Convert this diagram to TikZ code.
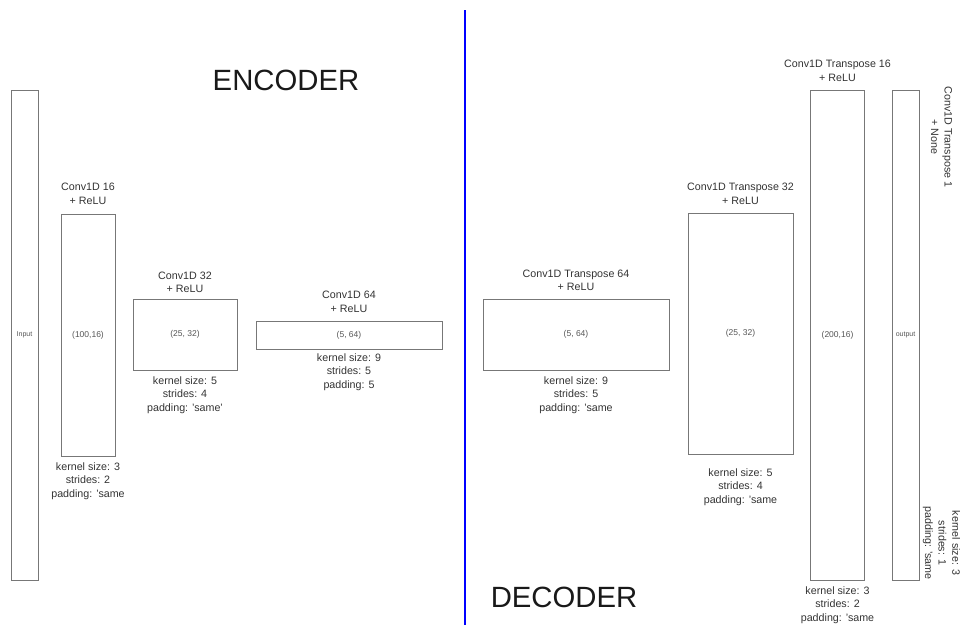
\documentclass[tikz,border=0pt]{standalone}
\usepackage{fontspec}
\setmainfont{Liberation Sans}
\definecolor{txt}{HTML}{333333}
\definecolor{edge}{HTML}{777777}
\definecolor{inner}{HTML}{555555}
\begin{document}
\begin{tikzpicture}[x=1pt,y=-1pt,
  blk/.style={draw=edge,line width=0.9pt,inner sep=0pt,outer sep=0pt,text=inner,font=\fontsize{8.5}{9.5}\selectfont},
  lbl/.style={align=center,text=txt,inner sep=0pt,font=\fontsize{10.7}{13.6}\selectfont},
  title/.style={text=black!90,inner sep=0pt,font=\fontsize{29.3}{31}\selectfont}]
\useasboundingbox (0,0) rectangle (965,625);
% blue divider
\coordinate (divtop) at (465,10);
\coordinate (divbot) at (465,625);
\draw[blue,line width=2.2pt] (divtop) -- (divbot);
% titles
\node[title] (enc) at (286,80) {ENCODER};
\node[title] (dec) at (564,597) {DECODER};
% encoder boxes
\node[blk,minimum width=27pt,minimum height=490pt,font=\fontsize{7}{8}\selectfont] (in) at (24.5,335) {Input};
\node[blk,minimum width=54pt,minimum height=242pt] (c16) at (88,335) {(100,16)};
\node[blk,minimum width=104pt,minimum height=71pt] (c32) at (185,334.5) {(25, 32)};
\node[blk,minimum width=186pt,minimum height=28pt] (c64) at (349,335) {(5, 64)};
% decoder boxes
\node[blk,minimum width=186pt,minimum height=71pt] (t64) at (576,334.5) {(5, 64)};
\node[blk,minimum width=105pt,minimum height=241pt] (t32) at (740.5,333.5) {(25, 32)};
\node[blk,minimum width=54pt,minimum height=490pt] (t16) at (837.5,335) {(200,16)};
\node[blk,minimum width=27pt,minimum height=490pt,font=\fontsize{7}{8}\selectfont] (out) at (905.5,335) {output};
% labels above
\node[lbl] (l16) at (88,194) {Conv1D 16\\+ ReLU};
\node[lbl] (l32) at (185,282.5) {Conv1D 32\\+ ReLU};
\node[lbl] (l64) at (349,302) {Conv1D 64\\+ ReLU};
\node[lbl] (lt64) at (576,280.5) {Conv1D Transpose 64\\+ ReLU};
\node[lbl] (lt32) at (740.5,194) {Conv1D Transpose 32\\+ ReLU};
\node[lbl] (lt16) at (837.5,71) {Conv1D Transpose 16\\+ ReLU};
\node[lbl,rotate=-90] (lt1) at (941.5,137) {Conv1D Transpose 1\\+ None};
% parameters below
\node[lbl] (p16) at (88,481) {kernel size: 3\\strides: 2\\padding: 'same};
\node[lbl] (p32) at (185,395) {kernel size: 5\\strides: 4\\padding: 'same'};
\node[lbl] (p64) at (349,372) {kernel size: 9\\strides: 5\\padding: 5};
\node[lbl] (pt64) at (576,395) {kernel size: 9\\strides: 5\\padding: 'same};
\node[lbl] (pt32) at (740.5,487) {kernel size: 5\\strides: 4\\padding: 'same};
\node[lbl] (pt16) at (837.5,605) {kernel size: 3\\strides: 2\\padding: 'same};
\node[lbl,rotate=-90] (pt1) at (941.5,543) {kernel size: 3\\strides: 1\\padding: 'same};
\end{tikzpicture}
\end{document}
